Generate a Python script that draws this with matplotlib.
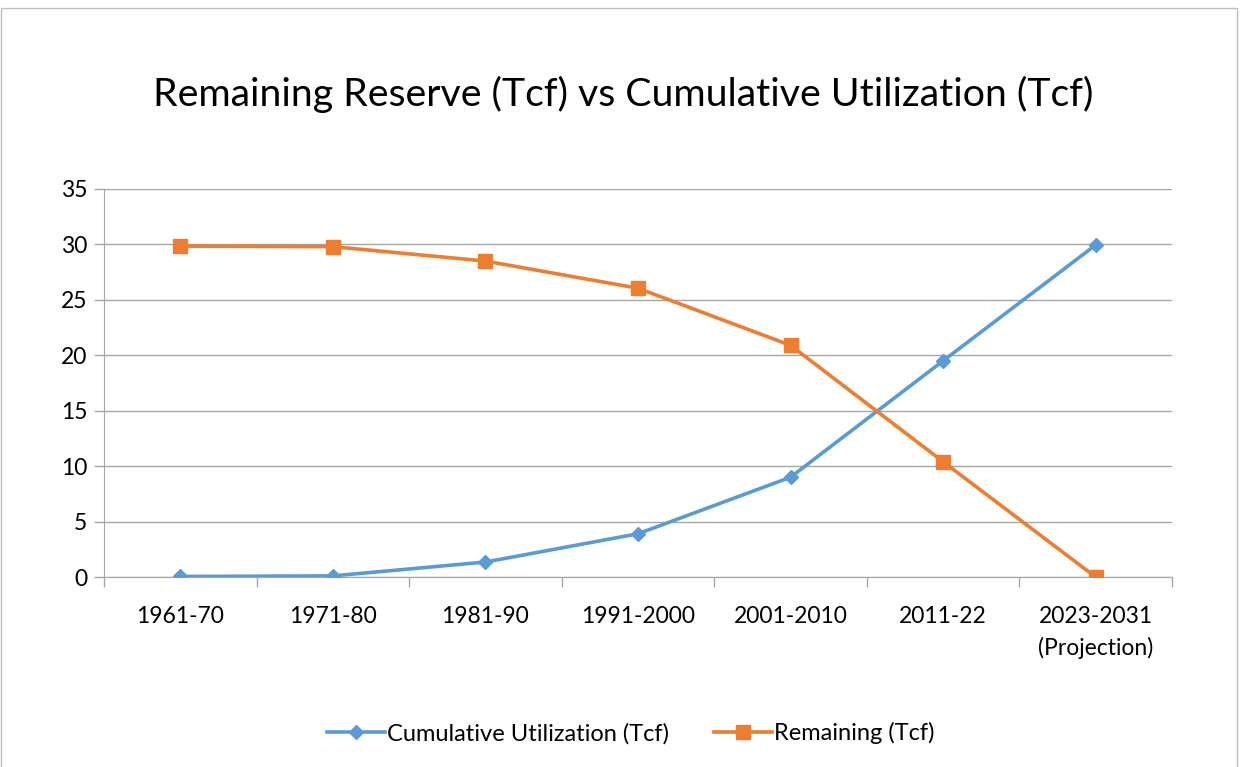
import numpy as np
import matplotlib.pyplot as plt
from matplotlib.patches import Rectangle

periods = ["1961-70", "1971-80", "1981-90", "1991-2000", "2001-2010", "2011-22", "2023-2031\n(Projection)"]
cumulative = [0.05, 0.1, 1.35, 3.9, 9.0, 19.5, 29.95]
remaining = [29.85, 29.8, 28.5, 26.05, 20.9, 10.4, 0.0]

plt.rcParams['font.family'] = ['Lato', 'DejaVu Sans']

fig = plt.figure(figsize=(12.47, 7.67), dpi=100)
ax = fig.add_axes([0.0834, 0.2477, 0.8564, 0.5059])

x = np.arange(len(periods))
ax.plot(x, cumulative, '-D', color='#5B9BD5', lw=2.6, ms=7.5, label='Cumulative Utilization (Tcf)', zorder=3)
ax.plot(x, remaining, '-s', color='#ED7D31', lw=2.6, ms=9.5, label='Remaining (Tcf)', zorder=3)

ax.set_xlim(-0.5, len(periods) - 0.5)
ax.set_ylim(0, 35)
ax.set_yticks(np.arange(0, 36, 5))
ax.yaxis.grid(True, color='#a6a6a6', lw=1)
ax.set_axisbelow(True)

# category ticks between groups, labels at centres
ax.set_xticks(np.arange(-0.5, len(periods), 1))
ax.set_xticklabels([])
ax.set_xticks(x, minor=True)
labels = ax.set_xticklabels(periods, minor=True, fontsize=16.5)
for lb in labels:
    lb.set_linespacing(1.55)
ax.tick_params(axis='x', which='minor', length=0, pad=21)
ax.tick_params(axis='x', which='major', length=7, color='#a6a6a6', width=1)
ax.tick_params(axis='y', length=7, color='#a6a6a6', width=1, labelsize=16.5, pad=5)

for s in ['top', 'right']:
    ax.spines[s].set_visible(False)
ax.spines['left'].set_color('#a6a6a6')
ax.spines['bottom'].set_color('#a6a6a6')

fig.text(0.5, 0.877, 'Remaining Reserve (Tcf) vs Cumulative Utilization (Tcf)',
         ha='center', va='center', fontsize=28.3)

fig.legend(loc='center', bbox_to_anchor=(0.506, 0.044), ncol=2, frameon=False,
           fontsize=17, handlelength=2.45, columnspacing=1.9, handletextpad=0.1)

fig.add_artist(Rectangle((0.001, -0.01), 0.991, 1.0, transform=fig.transFigure,
                         fill=False, edgecolor='#bfbfbf', lw=1))

fig.savefig('out.png', dpi=100)
